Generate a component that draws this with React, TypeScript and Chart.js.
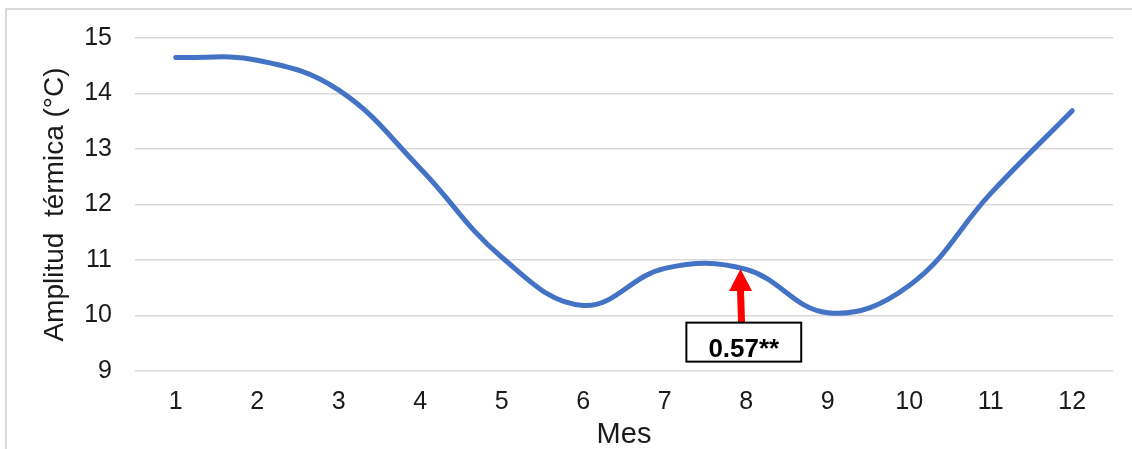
import React, { useEffect, useRef } from "react";
import { Chart, registerables } from "chart.js";

Chart.register(...registerables);

// ---- data ----
const MONTHS: string[] = ["1", "2", "3", "4", "5", "6", "7", "8", "9", "10", "11", "12"];
const AMPLITUD: number[] = [14.65, 14.6, 14.06, 12.65, 11.05, 10.18, 10.85, 10.83, 10.05, 10.54, 12.2, 13.69];
const Y_MIN = 9;
const Y_MAX = 15;
const Y_STEP = 1;
const Y_TITLE = "Amplitud  térmica (°C)";
const X_TITLE = "Mes";

// annotation (category index is 0-based, fractional = between months)
const ANNOT_ARROW_INDEX = 6.93;
const ANNOT_BOX_INDEX = 6.97;
const ANNOT_TIP_VALUE = 10.84;
const ANNOT_BOX_VALUE = 9.52;
const ANNOT_TEXT = "0.57**";

const FONT = '"Liberation Sans", Arial, sans-serif';
const TEXT_COLOR = "#1a1a1a";
const GRID_COLOR = "#d9d9d9";
const LINE_COLOR = "#4472C4";

const annotationPlugin = {
  id: "arrowAnnotation",
  afterDatasetsDraw(chart: any) {
    const ctx: CanvasRenderingContext2D = chart.ctx;
    const xs = chart.scales.x;
    const ys = chart.scales.y;
    const ax = xs.getPixelForValue(ANNOT_ARROW_INDEX);
    const bxc = xs.getPixelForValue(ANNOT_BOX_INDEX);
    const tipY = ys.getPixelForValue(ANNOT_TIP_VALUE);
    const boxCY = ys.getPixelForValue(ANNOT_BOX_VALUE);

    ctx.save();
    ctx.font = `bold 26px ${FONT}`;
    const tw = ctx.measureText(ANNOT_TEXT).width;
    const bw = tw + 44;
    const bh = 39;
    const bx = bxc - bw / 2;
    const by = boxCY - bh / 2;

    // arrow
    const headH = 22;
    const headW = 23;
    const shaftW = 7;
    ctx.fillStyle = "#ff0000";
    ctx.beginPath();
    ctx.moveTo(ax, tipY);
    ctx.lineTo(ax + headW / 2, tipY + headH);
    ctx.lineTo(ax + shaftW / 2, tipY + headH);
    ctx.lineTo(ax + shaftW / 2 + 1, by);
    ctx.lineTo(ax - shaftW / 2 + 1, by);
    ctx.lineTo(ax - shaftW / 2, tipY + headH);
    ctx.lineTo(ax - headW / 2, tipY + headH);
    ctx.closePath();
    ctx.fill();

    // box
    ctx.fillStyle = "#ffffff";
    ctx.fillRect(bx, by, bw, bh);
    ctx.strokeStyle = "#000000";
    ctx.lineWidth = 2;
    ctx.strokeRect(bx, by, bw, bh);

    // text
    ctx.fillStyle = "#000000";
    ctx.textAlign = "center";
    ctx.textBaseline = "alphabetic";
    ctx.fillText(ANNOT_TEXT, bxc, by + 34);
    ctx.restore();
  },
};

export default function App() {
  const ref = useRef<HTMLCanvasElement | null>(null);

  useEffect(() => {
    if (!ref.current) return;
    const chart = new Chart(ref.current, {
      type: "line",
      data: {
        labels: MONTHS,
        datasets: [
          {
            data: AMPLITUD,
            borderColor: LINE_COLOR,
            borderWidth: 5,
            pointRadius: 0,
            tension: 0.4,
            cubicInterpolationMode: "default",
            fill: false,
            borderCapStyle: "round",
            borderJoinStyle: "round",
          },
        ],
      },
      options: {
        animation: false,
        responsive: false,
        events: [],
        layout: { padding: { top: 38, right: 19, left: 0, bottom: 0 } },
        plugins: {
          legend: { display: false },
          tooltip: { enabled: false },
        },
        scales: {
          x: {
            offset: true,
            grid: { display: false, drawTicks: false },
            border: { display: false },
            ticks: {
              color: TEXT_COLOR,
              font: { family: FONT, size: 25 },
              padding: 16,
              maxRotation: 0,
            },
            title: {
              display: true,
              text: X_TITLE,
              color: TEXT_COLOR,
              font: { family: FONT, size: 29, lineHeight: 1 },
              padding: { top: 0, bottom: 0 },
            },
            afterFit: (s: any) => {
              s.height = 78;
            },
          },
          y: {
            min: Y_MIN,
            max: Y_MAX,
            grid: { color: GRID_COLOR, lineWidth: 1.5, drawTicks: false },
            border: { display: false },
            ticks: {
              stepSize: Y_STEP,
              color: TEXT_COLOR,
              font: { family: FONT, size: 25 },
              padding: 23,
            },
            title: {
              display: true,
              text: Y_TITLE,
              color: TEXT_COLOR,
              font: { family: FONT, size: 28, lineHeight: 1.2 },
              padding: { top: 38, bottom: 0 },
            },
            afterFit: (s: any) => {
              s.width = 135;
            },
          },
        },
      },
      plugins: [annotationPlugin],
    });
    return () => chart.destroy();
  }, []);

  return (
    <div style={{ position: "absolute", left: 0, top: 0, width: 1132, height: 449, background: "#fff", overflow: "hidden" }}>
      <div
        style={{
          position: "absolute",
          left: 5,
          top: 8,
          width: 1127,
          height: 441,
          borderTop: `2px solid ${GRID_COLOR}`,
          borderLeft: `2px solid ${GRID_COLOR}`,
          boxSizing: "border-box",
        }}
      />
      <canvas ref={ref} width={1132} height={449} style={{ position: "absolute", left: 0, top: 0 }} />
    </div>
  );
}
